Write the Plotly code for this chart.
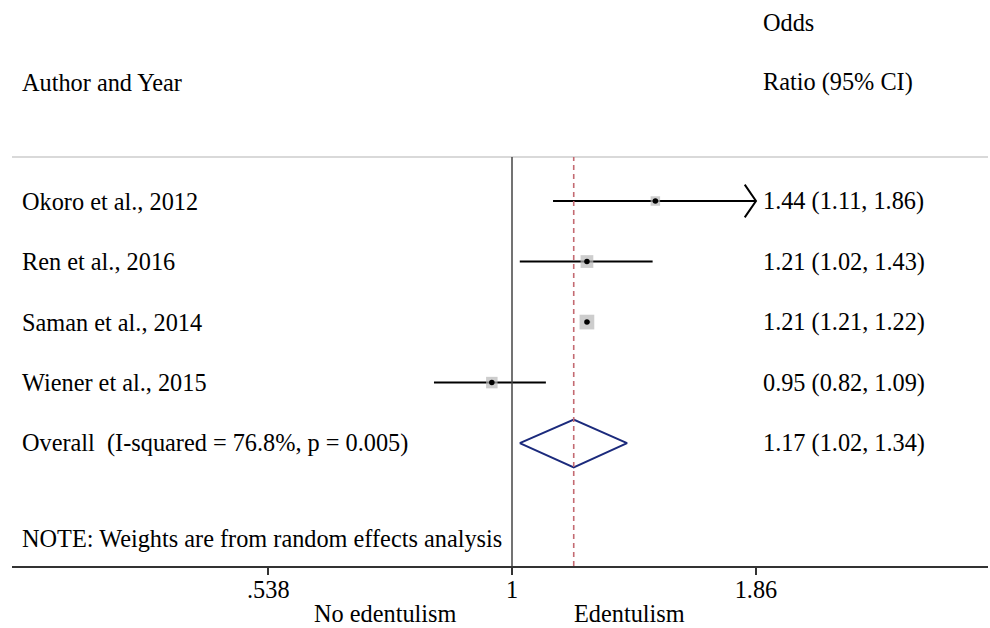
import plotly.graph_objects as go
import numpy as np

# ---------------- data ----------------
studies = ["Okoro et al., 2012", "Ren et al., 2016", "Saman et al., 2014", "Wiener et al., 2015"]
or_est = [1.44, 1.21, 1.21, 0.95]
ci_low = [1.11, 1.02, 1.21, 0.82]
ci_high = [1.86, 1.43, 1.22, 1.09]
weights = [15, 27, 36, 22]          # estimated study weights (%)
overall_label = "Overall  (I-squared = 76.8%, p = 0.005)"
overall_est = 1.17
overall_low = 1.02
overall_high = 1.34
note_text = "NOTE: Weights are from random effects analysis"
tick_vals = [0.538, 1, 1.86]
tick_text = [".538", "1", "1.86"]
left_favour = "No edentulism"
right_favour = "Edentulism"

# ---------------- layout constants ----------------
W, H = 990, 628
L, R, T, B = 12, 2, 157, 62
FONT = "Liberation Serif, Times New Roman, serif"
FS = 24.3
x_range = [-0.5523, 0.5258]       # log10 range
y_range = [6.03, -0.727]
rows = list(range(len(studies)))
overall_row = len(studies)
note_row = 5.57

def px_x(p):
    return (p - L) / (W - L - R)

def px_y(p):
    return (H - B - p) / (H - T - B)

fig = go.Figure()

# CI lines
for i in rows:
    hi = min(ci_high[i], max(tick_vals))
    fig.add_trace(go.Scatter(x=[ci_low[i], hi], y=[i, i], mode="lines",
                             line=dict(color="black", width=2), hoverinfo="skip", showlegend=False))
    if ci_high[i] >= max(tick_vals):
        back = hi / 1.029
        fig.add_trace(go.Scatter(x=[back, hi, back], y=[i - 0.27, i, i + 0.27], mode="lines",
                                 line=dict(color="black", width=2), hoverinfo="skip", showlegend=False))

# weight boxes
sizes = [2.45 * np.sqrt(w) for w in weights]
fig.add_trace(go.Scatter(x=or_est, y=rows, mode="markers",
                         marker=dict(symbol="square", size=sizes, color="#b8b8b8", line=dict(width=0)),
                         hoverinfo="skip", showlegend=False))
fig.add_trace(go.Scatter(x=or_est, y=rows, mode="markers",
                         marker=dict(symbol="circle", size=5.5, color="black"),
                         hoverinfo="skip", showlegend=False))

# overall diamond
fig.add_trace(go.Scatter(x=[overall_low, overall_est, overall_high, overall_est, overall_low],
                         y=[overall_row, overall_row - 0.39, overall_row, overall_row + 0.40, overall_row],
                         mode="lines", line=dict(color="#1b2a7c", width=2),
                         hoverinfo="skip", showlegend=False))

shapes = [
    dict(type="line", xref="paper", yref="paper", x0=0, x1=1, y0=1, y1=1,
         line=dict(color="#cccccc", width=1.5)),
    dict(type="line", xref="x", yref="paper", x0=1, x1=1, y0=0, y1=1,
         line=dict(color="#444444", width=1.5)),
    dict(type="line", xref="x", yref="paper", x0=overall_est, x1=overall_est, y0=0, y1=1,
         line=dict(color="#c46a72", width=1.6, dash="5px,4px")),
]

ann = []
def add_text(text, x, y, xref="paper", yref="y", xanchor="left"):
    ann.append(dict(text=text, x=x, y=y, xref=xref, yref=yref, xanchor=xanchor,
                    yanchor="middle", showarrow=False, font=dict(family=FONT, size=FS, color="black")))

left_x = px_x(20)
right_x = px_x(761)
for i in rows:
    add_text(studies[i], left_x, i)
    add_text(f"{or_est[i]:.2f} ({ci_low[i]:.2f}, {ci_high[i]:.2f})", right_x, i)
add_text(overall_label, left_x, overall_row)
add_text(f"{overall_est:.2f} ({overall_low:.2f}, {overall_high:.2f})", right_x, overall_row)
add_text(note_text, left_x, note_row)
add_text("Author and Year", left_x, px_y(82), yref="paper")
add_text("Odds", right_x, px_y(22), yref="paper")
add_text("Ratio (95% CI)", right_x, px_y(82), yref="paper")
add_text(left_favour, px_x(458), px_y(613), yref="paper", xanchor="right")
add_text(right_favour, px_x(572), px_y(613), yref="paper")

fig.update_layout(
    width=W, height=H,
    margin=dict(l=L, r=R, t=T, b=B),
    paper_bgcolor="white", plot_bgcolor="white",
    shapes=shapes, annotations=ann,
    xaxis=dict(type="log", range=x_range, tickvals=tick_vals, ticktext=tick_text,
               showgrid=False, zeroline=False, showline=True, linecolor="#333333", linewidth=1.5,
               ticks="outside", ticklen=7, tickwidth=1.5, tickcolor="#333333",
               ticklabelstandoff=-6,
               tickfont=dict(family=FONT, size=FS, color="black"), fixedrange=True),
    yaxis=dict(range=y_range, visible=False, fixedrange=True),
    showlegend=False,
)

fig.write_html("out.html")
